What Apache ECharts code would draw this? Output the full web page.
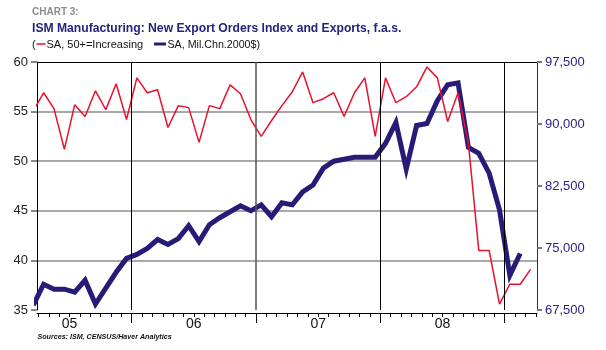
<!DOCTYPE html>
<html><head><meta charset="utf-8">
<script src="https://cdn.jsdelivr.net/npm/echarts@6/dist/echarts.min.js"></script>
<style>html,body{margin:0;padding:0;background:#fff}#c{width:606px;height:350px}</style>
</head><body><div id="c"></div>
<script>
const months = ['2005-03','2005-04','2005-05','2005-06','2005-07','2005-08','2005-09','2005-10','2005-11','2005-12',
'2006-01','2006-02','2006-03','2006-04','2006-05','2006-06','2006-07','2006-08','2006-09','2006-10','2006-11','2006-12',
'2007-01','2007-02','2007-03','2007-04','2007-05','2007-06','2007-07','2007-08','2007-09','2007-10','2007-11','2007-12',
'2008-01','2008-02','2008-03','2008-04','2008-05','2008-06','2008-07','2008-08','2008-09','2008-10','2008-11','2008-12',
'2009-01','2009-02','2009-03'];
const ismIndex = [55.1,56.9,55.3,51.2,55.7,54.5,57.1,55.2,57.8,54.2,
58.4,56.9,57.2,53.4,55.6,55.4,51.9,55.6,55.3,57.7,56.8,54.2,
52.5,54.1,55.6,57.0,59.0,55.9,56.3,56.9,54.5,56.9,58.4,52.5,
58.4,55.9,56.5,57.5,59.5,58.4,54.0,56.9,51.8,41.0,41.0,35.6,
37.6,37.6,39.1];
const exportsMil = [68100,70620,70020,70020,69660,71100,68220,70140,72060,73740,
74220,74940,76020,75420,76140,77700,75780,77820,78660,79380,80100,79500,
80220,78780,80460,80220,81780,82620,84660,85500,85740,85980,85980,85980,
87660,90180,84540,89820,90060,92820,94740,94980,87180,86460,84060,79620,
71700,74340];
const yearLabels = ['05','06','07','08'];
const yearBoundaries = ['2006','2007','2008','2009'];

const baseYear = 2005;
function toX(m){const p=m.split('-').map(Number);return (p[0]-baseYear)*12+(p[1]-1)+0.5;}
const X_MIN = 2.86, X_MAX = 51.12;
const monthTicks = []; for (let i=Math.ceil(X_MIN); i<=Math.floor(X_MAX); i++) monthTicks.push(i);
const yearMid = yearLabels.map(l => (2000 + Number(l) - baseYear) * 12 + 6);
const yearLines = yearBoundaries.map(y => (Number(y) - baseYear) * 12);

const NAVY = '#261c78', RED = '#e8112d', FONT = 'Liberation Sans';
const chart = echarts.init(document.getElementById('c'), null, {renderer:'canvas'});
const xBase = {type:'value', min:X_MIN, max:X_MAX, splitLine:{show:false}};
chart.setOption({
  animation:false,
  backgroundColor:'#fff',
  grid:{left:37, right:69, top:62, bottom:40},
  xAxis:[
    Object.assign({}, xBase, {position:'bottom', offset:3,
      axisLine:{show:true, lineStyle:{color:'#000', width:1}},
      axisTick:{show:true, customValues:monthTicks, length:4, lineStyle:{color:'#000', width:1}},
      axisLabel:{show:true, customValues:yearMid, margin:4, fontFamily:FONT, fontSize:14, color:'#111',
        formatter:function(v){const i=yearMid.indexOf(v);return i>=0?yearLabels[i]:'';}}}),
    Object.assign({}, xBase, {position:'bottom', offset:3,
      axisLine:{show:false},
      axisTick:{show:true, customValues:yearLines, length:10, lineStyle:{color:'#000', width:1}},
      axisLabel:{show:false}}),
    Object.assign({}, xBase, {position:'top',
      axisLine:{show:true, lineStyle:{color:'#000', width:1}},
      axisTick:{show:false}, axisLabel:{show:false}})
  ],
  yAxis:[
    {type:'value', position:'left', min:35, max:60, interval:5,
      axisLine:{show:true, lineStyle:{color:'#000', width:1}},
      axisTick:{show:true, length:6, lineStyle:{color:'#888', width:2}},
      axisLabel:{fontFamily:FONT, fontSize:13, color:'#222', margin:9},
      splitLine:{show:true, showMinLine:false, showMaxLine:false, lineStyle:{color:'#8c8c8c', width:1.5}}},
    {type:'value', position:'right', min:67500, max:97500, interval:7500,
      axisLine:{show:true, lineStyle:{color:'#333', width:1}},
      axisTick:{show:true, length:5, lineStyle:{color:'#777', width:2}},
      axisLabel:{fontFamily:FONT, fontSize:13, color:'#2a2282', margin:8},
      splitLine:{show:false}}
  ],
  series:[
    {type:'line', name:'years', data:[], xAxisIndex:0, yAxisIndex:0, z:1, silent:true,
      markLine:{silent:true, symbol:['none','none'], label:{show:false},
        lineStyle:{color:'#000', width:1, type:'solid'},
        data: yearLines.map((v,i)=>({xAxis:v, lineStyle:{color: i===1 ? '#555' : '#000', width: i===1 ? 1.5 : 1}}))}},
    {type:'line', name:'SA, Mil.Chn.2000$', xAxisIndex:0, yAxisIndex:1, z:2, clip:false,
      data: exportsMil.map((v,i)=>[toX(months[i]), v]), symbol:'none',
      lineStyle:{color:NAVY, width:5, join:'miter'}},
    {type:'line', name:'SA, 50+=Increasing', xAxisIndex:0, yAxisIndex:0, z:3, clip:false,
      data: ismIndex.map((v,i)=>[toX(months[i]), v]), symbol:'none',
      lineStyle:{color:RED, width:1.5}}
  ],
  graphic:[
    {type:'text', x:32, y:7, style:{text:'CHART 3:', font:'bold 10px "Liberation Sans"', fill:'#8c8c8c'}},
    {type:'text', x:32, y:21.5, scaleX:0.9, style:{text:'ISM Manufacturing: New Export Orders Index and Exports, f.a.s.', font:'bold 13.5px "Liberation Sans"', fill:'#27237a'}},
    {type:'text', x:32, y:39.5, style:{text:'(', font:'11px "Liberation Sans"', fill:'#111'}},
    {type:'line', shape:{x1:36.5, y1:44, x2:45.5, y2:44}, style:{stroke:RED, lineWidth:1.5}},
    {type:'text', x:46.5, y:39.5, style:{text:'SA, 50+=Increasing', font:'11px "Liberation Sans"', fill:'#111'}},
    {type:'rect', shape:{x:154, y:42.5, width:12, height:3}, style:{fill:NAVY}},
    {type:'text', x:167.5, y:39.5, scaleX:0.97, style:{text:'SA, Mil.Chn.2000$)', font:'11px "Liberation Sans"', fill:'#111'}},
    {type:'text', x:37.5, y:332.5, scaleX:0.89, style:{text:'Sources: ISM, CENSUS/Haver Analytics', font:'italic bold 8px "Liberation Sans"', fill:'#111'}}
  ]
});
</script></body></html>
